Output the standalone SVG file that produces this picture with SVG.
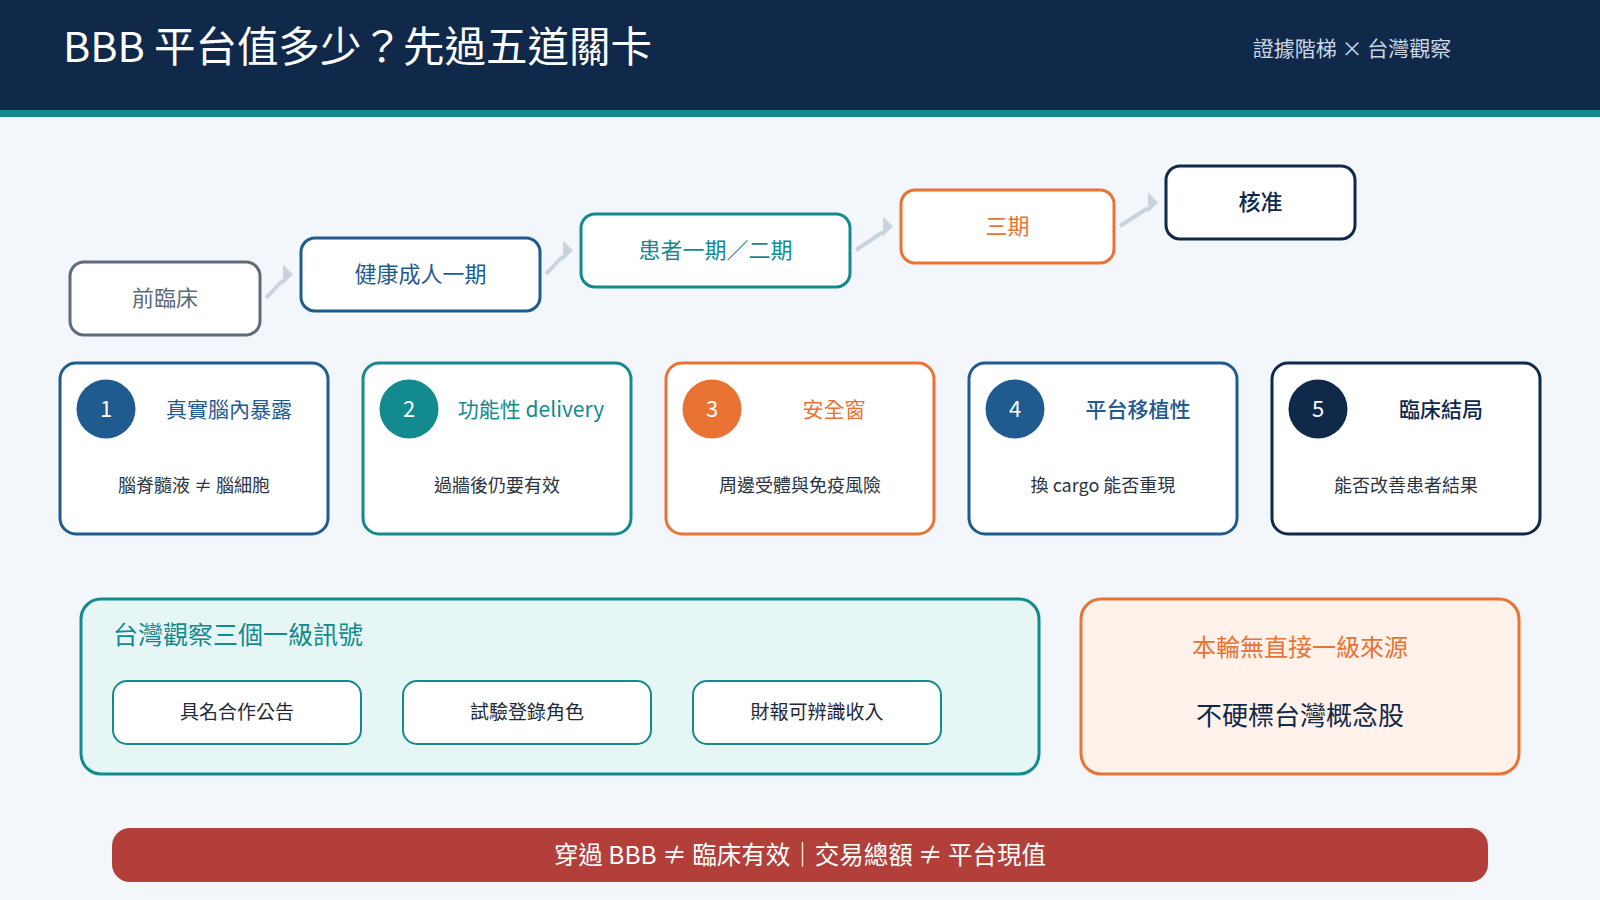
<svg xmlns="http://www.w3.org/2000/svg" width="1600" height="900" viewBox="0 0 1600 900">
<style>
text{font-family:"Noto Sans CJK TC","Noto Sans",sans-serif;dominant-baseline:central;text-anchor:middle}
.stage{fill:#ffffff;stroke-width:3}
.stxt{font-size:22px}
.card{fill:#ffffff;stroke-width:3}
.num{fill:#ffffff;font-size:22px}
.head{font-size:21px}
.sub{font-size:18px;fill:#2a3442}
.pill{fill:#ffffff;stroke:#138a8e;stroke-width:2}
.ptxt{font-size:19px;fill:#1e2a38}
.conn line{stroke:#c8d3dd;stroke-width:4}
.conn polygon{fill:#c8d3dd}
</style>
<rect x="0" y="0" width="1600" height="900" fill="#f3f7fb"/>
<g id="header">
<rect x="0" y="0" width="1600" height="110" fill="#10294a"/>
<rect x="0" y="110" width="1600" height="7" fill="#138a8e"/>
<text x="63" y="44" style="text-anchor:start;font-size:41.5px" fill="#ffffff">BBB 平台值多少？先過五道關卡</text>
<text x="1352" y="47" style="font-size:21px" fill="#c9d6e3">證據階梯 × 台灣觀察</text>
</g>
<g id="connectors" class="conn">
<line x1="266" y1="298" x2="283" y2="280"/>
<polygon points="283,264.5 293,274.5 283,284.5"/>
<line x1="546" y1="274" x2="563" y2="256"/>
<polygon points="563,240.5 573,250.5 563,260.5"/>
<line x1="856" y1="250" x2="883" y2="232"/>
<polygon points="883,216.5 893,226.5 883,236.5"/>
<line x1="1120" y1="226" x2="1148" y2="208"/>
<polygon points="1148,192.5 1158,202.5 1148,212.5"/>
</g>
<g id="stage-preclinical">
<rect class="stage" x="70" y="262" width="190" height="73" rx="14" stroke="#5d6b7a"/>
<text class="stxt" x="165" y="296" fill="#5d6b7a">前臨床</text>
</g>
<g id="stage-phase1">
<rect class="stage" x="301" y="238" width="239" height="73" rx="14" stroke="#1f5b8e"/>
<text class="stxt" x="420.5" y="272" fill="#1f5b8e">健康成人一期</text>
</g>
<g id="stage-phase12">
<rect class="stage" x="581" y="214" width="269" height="73" rx="14" stroke="#138a8e"/>
<text class="stxt" x="715.5" y="248" fill="#138a8e">患者一期／二期</text>
</g>
<g id="stage-phase3">
<rect class="stage" x="901" y="190" width="213" height="73" rx="14" stroke="#e97235"/>
<text class="stxt" x="1007.5" y="224" fill="#e97235">三期</text>
</g>
<g id="stage-approval">
<rect class="stage" x="1166" y="166" width="189" height="73" rx="14" stroke="#10294a"/>
<text class="stxt" x="1260.5" y="200" fill="#10294a" font-weight="500">核准</text>
</g>
<g id="gate1">
<rect class="card" x="60" y="363" width="268" height="171" rx="16" stroke="#1f5b8e"/>
<circle cx="106" cy="409" r="29.5" fill="#1f5b8e"/>
<text class="num" x="106" y="407">1</text>
<text class="head" x="229" y="408" fill="#1f5b8e">真實腦內暴露</text>
<text class="sub" x="194" y="484">腦脊髓液 ≠ 腦細胞</text>
</g>
<g id="gate2">
<rect class="card" x="363" y="363" width="268" height="171" rx="16" stroke="#138a8e"/>
<circle cx="409" cy="409" r="29.5" fill="#138a8e"/>
<text class="num" x="409" y="407">2</text>
<text class="head" x="531" y="408" fill="#138a8e">功能性 delivery</text>
<text class="sub" x="497" y="484">過牆後仍要有效</text>
</g>
<g id="gate3">
<rect class="card" x="666" y="363" width="268" height="171" rx="16" stroke="#e97235"/>
<circle cx="712" cy="409" r="29.5" fill="#e97235"/>
<text class="num" x="712" y="407">3</text>
<text class="head" x="834" y="408" fill="#e97235">安全窗</text>
<text class="sub" x="800" y="484">周邊受體與免疫風險</text>
</g>
<g id="gate4">
<rect class="card" x="969" y="363" width="268" height="171" rx="16" stroke="#1f5b8e"/>
<circle cx="1015" cy="409" r="29.5" fill="#1f5b8e"/>
<text class="num" x="1015" y="407">4</text>
<text class="head" x="1138" y="408" fill="#1f5b8e" font-weight="500">平台移植性</text>
<text class="sub" x="1103" y="484">換 cargo 能否重現</text>
</g>
<g id="gate5">
<rect class="card" x="1272" y="363" width="268" height="171" rx="16" stroke="#10294a"/>
<circle cx="1318" cy="409" r="29.5" fill="#10294a"/>
<text class="num" x="1318" y="407">5</text>
<text class="head" x="1441" y="408" fill="#10294a" font-weight="500">臨床結局</text>
<text class="sub" x="1406" y="484">能否改善患者結果</text>
</g>
<g id="taiwan-panel">
<rect x="81" y="599" width="958" height="175" rx="20" fill="#e6f6f5" stroke="#138a8e" stroke-width="3"/>
<text x="113" y="633" style="text-anchor:start;font-size:25px" fill="#138a8e">台灣觀察三個一級訊號</text>
</g>
<g id="signal1">
<rect class="pill" x="113" y="681" width="248" height="63" rx="14"/>
<text class="ptxt" x="237" y="710">具名合作公告</text>
</g>
<g id="signal2">
<rect class="pill" x="403" y="681" width="248" height="63" rx="14"/>
<text class="ptxt" x="527" y="710">試驗登錄角色</text>
</g>
<g id="signal3">
<rect class="pill" x="693" y="681" width="248" height="63" rx="14"/>
<text class="ptxt" x="817" y="710">財報可辨識收入</text>
</g>
<g id="no-source">
<rect x="1081" y="599" width="438" height="175" rx="20" fill="#fff2ea" stroke="#e97235" stroke-width="3"/>
<text x="1300" y="645" style="font-size:24px" fill="#e97235">本輪無直接一級來源</text>
<text x="1300" y="713" style="font-size:26px" fill="#10294a">不硬標台灣概念股</text>
</g>
<g id="banner">
<rect x="112" y="828" width="1376" height="54" rx="18" fill="#b23f3a"/>
<text x="800" y="853" style="font-size:24.5px" fill="#ffffff">穿過 BBB ≠ 臨床有效｜交易總額 ≠ 平台現值</text>
</g>
</svg>
